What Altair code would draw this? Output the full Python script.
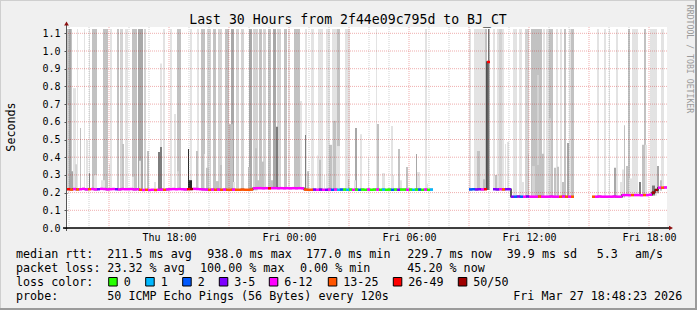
import altair as alt
import pandas as pd

MONO = "DejaVu Sans Mono"

# ---------------- text ----------------
title_text = "Last 30 Hours from 2f44e09c795d to BJ_CT"
y_title = "Seconds"
side_text = "RRDTOOL / TOBI OETIKER"

# ---------------- axes (time = minutes after window start, Thu 12:54) ----------------
window_minutes = 1800
tick_minutes = [306, 666, 1026, 1386, 1746]
tick_labels = ["Thu 18:00", "Fri 00:00", "Fri 06:00", "Fri 12:00", "Fri 18:00"]
y_ticks = [0.0, 0.1, 0.2, 0.3, 0.4, 0.5, 0.6, 0.7, 0.8, 0.9, 1.0, 1.1]
first_hour_minute = 6      # Thu 13:00
first_major_minute = 126   # Thu 15:00

# ---------------- median rtt (s) per 9-minute column, None = no data ----------------
col_minutes = 9
N = None
median_s = [
    0.219, 0.217, 0.220, 0.218, 0.219, 0.221, 0.218, 0.219, 0.220, 0.218, 0.219, 0.221, 0.220, 0.218, 0.219, 0.220, 0.219, 0.218, 0.220, 0.219,
    0.219, 0.220, 0.218, 0.219, 0.216, 0.215, 0.216, 0.215, 0.216, 0.215, 0.216, 0.217, 0.216, 0.218, 0.219, 0.220, 0.219, 0.220, 0.219, 0.218,
    0.219, 0.220, 0.221, 0.220, 0.219, 0.218, 0.217, 0.216, 0.217, 0.216, 0.217, 0.216, 0.217, 0.216, 0.216, 0.217, 0.216, 0.216, 0.217, 0.216,
    0.216, 0.217, 0.224, 0.225, 0.225, 0.224, 0.225, 0.224, 0.225, 0.225, 0.224, 0.225, 0.224, 0.225, 0.224, 0.225, 0.224, 0.225, 0.224, 0.217,
    0.216, 0.216, 0.217, 0.216, 0.217, 0.216, 0.216, 0.217, 0.216, 0.217, 0.216, 0.217, 0.217, 0.216, 0.217, 0.216, 0.217, 0.216, 0.217, 0.216,
    0.217, 0.216, 0.217, 0.217, 0.216, 0.217, 0.216, 0.217, 0.216, 0.217, 0.216, 0.217, 0.217, 0.216, 0.217, 0.216, 0.217, 0.217, 0.216, 0.217,
    0.216, 0.217, N, N, N, N, N, N, N, N, N, N, N, N, 0.218, 0.219, 0.218, 0.219, 0.218, 0.219,
    0.938, N, 0.219, 0.218, 0.219, 0.218, 0.219, 0.219, 0.177, 0.177, 0.178, 0.177, 0.177, 0.178, 0.177, 0.177, 0.177, 0.178, 0.177, 0.177,
    0.177, 0.178, 0.177, 0.177, 0.177, 0.178, 0.177, 0.177, 0.177, N, N, N, N, N, N, 0.177, 0.177, 0.178, 0.177, 0.177,
    0.177, 0.177, 0.178, 0.177, 0.177, 0.186, 0.186, 0.185, 0.186, 0.186, 0.186, 0.185, 0.186, 0.186, 0.188, 0.200, 0.215, 0.228, 0.228, 0.229,
]
# loss class per column: 0="0",1="1",2="2",3="3-5",4="6-12",5="13-25",6="26-49",7="50/50"
loss_code = [
    6, 5, 4, 5, 4, 4, 4, 5, 4, 4, 3, 4, 4, 4, 4, 4, 3, 4, 4, 4,
    4, 4, 4, 4, 5, 4, 5, 4, 4, 5, 4, 4, 5, 4, 4, 4, 4, 4, 4, 4,
    6, 7, 4, 4, 4, 4, 4, 5, 4, 5, 4, 5, 4, 5, 5, 4, 5, 5, 5, 5,
    5, 5, 4, 4, 4, 4, 4, 6, 4, 4, 4, 4, 4, 4, 4, 4, 4, 4, 4, 5,
    5, 5, 3, 4, 3, 4, 3, 4, 2, 4, 1, 2, 0, 1, 0, 4, 0, 2, 0, 0,
    4, 0, 0, 4, 0, 1, 0, 0, 2, 0, 3, 0, 0, 4, 0, 1, 0, 2, 0, 4,
    0, 1, N, N, N, N, N, N, N, N, N, N, N, N, 2, 2, 3, 3, 4, 6,
    6, N, 3, 3, 4, 5, 3, 3, 3, 2, 3, 2, 4, 3, 4, 4, 4, 5, 4, 4,
    4, 4, 4, 4, 5, 4, 5, 4, 5, N, N, N, N, N, N, 5, 4, 4, 4, 4,
    4, 4, 4, 4, 4, 4, 4, 4, 5, 4, 4, 4, 5, 4, 4, 7, 7, 4, 5, 4,
]
loss_labels = ["0", "1", "2", "3-5", "6-12", "13-25", "26-49", "50/50"]
loss_colors = ["#26ff00", "#00b8ff", "#0059ff", "#7e00ff", "#ff00ff", "#ff5500", "#ff0000", "#a00000"]

# ---------------- smoke: bars that run off the top of the scale ----------------
tall_top = 1.124
tall_start = [0, 6, 12, 30, 51, 66, 75, 108, 129, 150, 159, 174, 195, 213, 222, 231, 288, 309, 330, 369,
              390, 402, 420, 438, 453, 474, 492, 507, 522, 546, 558, 576, 588, 603, 618, 630, 651, 663, 681, 714,
              732, 753, 777, 795, 810, 834, 927, 1074, 1206, 1221, 1254, 1264, 1278, 1290, 1296, 1338, 1356, 1374, 1392, 1428,
              1437, 1446, 1467, 1479, 1491, 1506, 1512, 1590, 1611, 1626, 1647, 1683, 1695, 1731, 1749, 1782]
tall_end = [6, 12, 15, 33, 54, 69, 90, 123, 135, 156, 168, 183, 210, 222, 228, 237, 294, 315, 342, 375,
            396, 414, 432, 447, 465, 486, 501, 516, 531, 555, 573, 585, 597, 612, 627, 642, 660, 669, 699, 720,
            741, 768, 789, 810, 819, 849, 930, 1080, 1212, 1254, 1260, 1267, 1284, 1311, 1305, 1350, 1365, 1386, 1425, 1434,
            1446, 1458, 1473, 1485, 1497, 1512, 1521, 1596, 1617, 1629, 1653, 1689, 1713, 1737, 1770, 1791]
tall_dens = [3, 4, 3, 1, 1, 1, 3, 3, 1, 3, 2, 1, 3, 4, 4, 2, 1, 1, 3, 1,
             1, 3, 2, 3, 2, 3, 4, 2, 2, 4, 2, 3, 2, 3, 4, 2, 3, 1, 3, 1,
             1, 1, 1, 1, 3, 1, 1, 1, 1, 1, 3, 6, 1, 1, 2, 1, 1, 2, 3, 1,
             1, 3, 1, 1, 3, 1, 3, 1, 1, 1, 1, 3, 1, 3, 1, 1]

# ---------------- smoke: shorter spikes ----------------
spike_start = [0, 12, 18, 24, 39, 57, 66, 81, 102, 117, 126, 150, 165, 195, 207, 216, 240, 261, 273, 279,
               279, 321, 330, 363, 366, 387, 411, 417, 426, 444, 459, 486, 498, 543, 564, 570, 582, 612, 627, 699,
               714, 720, 750, 756, 771, 786, 798, 810, 834, 843, 861, 864, 879, 903, 930, 945, 972, 975, 993, 999,
               1017, 1047, 1050, 1074, 1230, 1248, 1278, 1284, 1314, 1320, 1365, 1383, 1395, 1410, 1410, 1422, 1425, 1446, 1461, 1470,
               1485, 1500, 1506, 1590, 1611, 1641, 1650, 1659, 1665, 1671, 1677, 1683, 1686, 1701, 1707, 1716, 1725, 1734, 1755, 1770,
               1779, 1785]
spike_end = [6, 18, 27, 30, 42, 63, 69, 90, 114, 123, 129, 153, 171, 201, 210, 222, 246, 267, 279, 285,
             285, 327, 336, 366, 375, 393, 414, 426, 429, 456, 465, 498, 504, 549, 570, 576, 591, 618, 633, 705,
             717, 726, 759, 762, 774, 795, 807, 819, 837, 846, 867, 870, 885, 906, 936, 954, 978, 981, 999, 1005,
             1023, 1050, 1059, 1083, 1239, 1254, 1284, 1290, 1317, 1326, 1371, 1386, 1404, 1416, 1416, 1425, 1431, 1452, 1467, 1476,
             1491, 1506, 1512, 1596, 1614, 1647, 1653, 1665, 1671, 1674, 1683, 1686, 1695, 1707, 1713, 1722, 1731, 1740, 1764, 1776,
             1785, 1791]
spike_top = [0.695, 0.32, 0.79, 0.36, 0.565, 0.50, 0.31, 0.30, 0.27, 0.27, 0.36, 0.57, 0.475, 0.29, 0.35, 0.38, 0.435, 0.26, 0.43, 0.458,
             0.93, 0.644, 0.32, 0.446, 0.27, 0.435, 0.418, 0.34, 0.38, 0.265, 0.356, 0.587, 0.26, 0.345, 0.45, 0.27, 0.375, 0.27, 0.572, 0.717,
             0.525, 0.32, 0.41, 0.385, 0.30, 0.47, 0.605, 0.463, 0.27, 0.275, 0.27, 0.565, 0.53, 0.395, 0.587, 0.31, 0.576, 0.30, 0.446, 0.27,
             0.345, 0.418, 0.316, 0.25, 0.435, 0.276, 0.30, 0.30, 0.475, 0.486, 0.26, 0.42, 0.35, 0.864, 0.356, 0.397, 0.42, 0.62, 0.34, 0.346,
             0.26, 0.48, 0.27, 0.275, 0.27, 0.34, 0.33, 0.26, 0.33, 0.58, 0.35, 0.395, 0.28, 0.50, 0.46, 0.26, 0.47, 0.47, 0.24, 0.35,
             0.27, 0.927]
spike_dens = [2, 4, 1, 2, 3, 1, 5, 1, 1, 3, 1, 3, 3, 1, 3, 1, 3, 1, 5, 5,
              1, 1, 2, 6, 6, 3, 1, 3, 1, 3, 3, 3, 1, 3, 3, 3, 3, 3, 5, 1,
              5, 3, 1, 3, 1, 3, 3, 1, 1, 3, 1, 4, 1, 1, 3, 1, 1, 1, 3, 1,
              3, 4, 1, 1, 3, 3, 1, 3, 1, 1, 1, 3, 2, 2, 3, 3, 3, 2, 3, 3,
              3, 4, 1, 1, 1, 4, 1, 1, 1, 3, 3, 3, 1, 1, 1, 5, 3, 1, 5, 4,
              3, 1]
smoke_grays = ["#e3e3e3", "#d3d3d3", "#c2c2c2", "#a8a8a8", "#7d7d7d", "#2a2a2a"]

# ---------------- legend text ----------------
rtt_label = "median rtt:"
rtt_stats = ["211.5 ms avg", "938.0 ms max", "177.0 ms min", "229.7 ms now", "39.9 ms sd", "5.3", "am/s"]
loss_label = "packet loss:"
loss_stats = ["23.32 % avg", "100.00 % max", "0.00 % min", "45.20 % now"]
color_label = "loss color:"
probe_label = "probe:"
probe_text = "50 ICMP Echo Pings (56 Bytes) every 120s"
date_text = "Fri Mar 27 18:48:23 2026"

# ================= build =================
W, H = 600, 201
LEFT, TOP = 67, 27
YMAX = 1.1356

x_scale = alt.Scale(domain=[0, window_minutes], nice=False, zero=False)
y_scale = alt.Scale(domain=[0, YMAX], nice=False, zero=False)

label_expr = " : ".join(f"datum.value == {v} ? '{l}'" for v, l in zip(tick_minutes, tick_labels)) + " : ''"
X_AXIS = alt.Axis(values=tick_minutes, labelExpr=label_expr, title=None, domain=False, grid=False,
                  ticks=False, labelFont=MONO, labelFontSize=10, labelColor="#000",
                  labelPadding=4, labelOverlap=False, labelFlush=False)
Y_AXIS = alt.Axis(values=y_ticks, format=".1f", title=None, domain=False, grid=False,
                  tickSize=3, tickColor="#555", labelFont=MONO, labelFontSize=10,
                  labelColor="#000", labelPadding=4)


def X(f):
    return alt.X(f, scale=x_scale, axis=X_AXIS)


def Y(f):
    return alt.Y(f, scale=y_scale, axis=Y_AXIS)


def base_at(t):
    k = int(t // col_minutes)
    vals = [median_s[j] for j in (k - 1, k, k + 1)
            if 0 <= j < len(median_s) and median_s[j] is not None]
    return (min(vals) if vals else 0.2) - 0.004


rows = []
for s, e, d in zip(tall_start, tall_end, tall_dens):
    rows.append(dict(t0=s, t1=e, lo=base_at(s), hi=tall_top, c=smoke_grays[d - 1]))
for s, e, top, d in zip(spike_start, spike_end, spike_top, spike_dens):
    rows.append(dict(t0=s, t1=e, lo=base_at(s), hi=top, c=smoke_grays[d - 1]))
smoke_df = pd.DataFrame(rows).sort_values("hi", ascending=False, kind="stable").reset_index(drop=True)

med_rows, step_rows = [], []
seg = 0
prev_none = True
for k, (m, c) in enumerate(zip(median_s, loss_code)):
    if m is None:
        if not prev_none:
            step_rows.append(dict(t=k * col_minutes, m=median_s[k - 1], seg=seg))
        prev_none = True
        continue
    if prev_none:
        seg += 1
    prev_none = False
    med_rows.append(dict(t0=k * col_minutes, t1=(k + 1) * col_minutes, m=m, c=loss_colors[c]))
    step_rows.append(dict(t=k * col_minutes, m=m, seg=seg))
if not prev_none:
    step_rows.append(dict(t=len(median_s) * col_minutes, m=median_s[-1], seg=seg))
med_df = pd.DataFrame(med_rows)
step_df = pd.DataFrame(step_rows)

smoke = alt.Chart(smoke_df).mark_rect(clip=True).encode(
    x=X("t0:Q"), x2="t1:Q", y=Y("lo:Q"), y2="hi:Q",
    color=alt.Color("c:N", scale=None),
)

minor_min = [first_hour_minute + 60 * i for i in range(30)
             if (first_hour_minute + 60 * i - first_major_minute) % 180 != 0]
major_min = [first_major_minute + 180 * i for i in range(10)]

grid_minor = alt.Chart(pd.DataFrame({"t": minor_min})).mark_rule(
    color="#7a7a7a", strokeOpacity=0.35, strokeDash=[1, 1], strokeWidth=1
).encode(x=X("t:Q"))
grid_major = alt.Chart(pd.DataFrame({"t": major_min})).mark_rule(
    color="#cc0000", strokeOpacity=0.32, strokeDash=[1, 1], strokeWidth=1
).encode(x=X("t:Q"))
grid_h = alt.Chart(pd.DataFrame({"v": y_ticks[1:]})).mark_rule(
    color="#cc0000", strokeOpacity=0.32, strokeDash=[1, 1], strokeWidth=1
).encode(y=Y("v:Q"))

steps = alt.Chart(step_df).mark_line(interpolate="step-after", color="#2a2a2a", strokeWidth=1.5).encode(
    x=X("t:Q"), y=Y("m:Q"), detail="seg:N",
)
med = alt.Chart(med_df).mark_rule(strokeWidth=2.5, strokeCap="butt").encode(
    x=X("t0:Q"), x2="t1:Q", y=Y("m:Q"),
    color=alt.Color("c:N", scale=None),
)

dummy = pd.DataFrame({"d": [0]})


def txt(s, ax, ay, size=11.7, align="left", baseline="alphabetic", angle=0, color="#000"):
    kw = dict(font=MONO, fontSize=size, align=align, baseline=baseline, color=color)
    if angle:
        kw["angle"] = angle
    return alt.Chart(dummy).mark_text(**kw).encode(
        x=alt.value(ax - LEFT), y=alt.value(ay - TOP), text=alt.value(s))


def rule(x1, y1, x2, y2, color, w):
    return alt.Chart(dummy).mark_rule(color=color, strokeWidth=w, strokeCap="butt").encode(
        x=alt.value(x1 - LEFT), x2=alt.value(x2 - LEFT), y=alt.value(y1 - TOP), y2=alt.value(y2 - TOP))


layers = [smoke, grid_minor, grid_major, grid_h, steps, med]

# axis lines and arrows
layers.append(rule(66.5, 25, 66.5, 231, "#555555", 1))
layers.append(rule(63, 228, 670, 228, "#000000", 1.5))
layers.append(alt.Chart(dummy).mark_point(shape="triangle-up", filled=True, size=22, color="#8b1010", opacity=1)
              .encode(x=alt.value(66.5 - LEFT), y=alt.value(23.5 - TOP)))
layers.append(alt.Chart(dummy).mark_point(shape="triangle-right", filled=True, size=22, color="#8b1010", opacity=1)
              .encode(x=alt.value(671 - LEFT), y=alt.value(228 - TOP)))

# titles
layers.append(txt(title_text, 348, 24, size=13.2, align="center"))
layers.append(txt(y_title, 10.5, 127, size=11.7, align="center", baseline="middle", angle=270))
layers.append(txt(side_text, 689, 59, size=8.2, align="center", baseline="middle", angle=90, color="#9a9a9a"))

# legend
LY = [258, 272, 286, 299.5]
layers.append(txt(rtt_label, 16, LY[0]))
for s, ax in zip(rtt_stats, [107.3, 207.3, 306, 407.3, 506.7, 596.7, 635]):
    layers.append(txt(s, ax, LY[0]))
layers.append(txt(loss_label, 16, LY[1]))
for s, ax in zip(loss_stats, [107.3, 200, 300, 407.3]):
    layers.append(txt(s, ax, LY[1]))
layers.append(txt(color_label, 16, LY[2]))
sq_x = [108.7, 145.7, 182.7, 219.3, 269.3, 328.3, 393.3, 458.3]
for lab, col, ax in zip(loss_labels, loss_colors, sq_x):
    layers.append(alt.Chart(dummy).mark_rect(color=col, stroke="#000", strokeWidth=1).encode(
        x=alt.value(ax - LEFT), x2=alt.value(ax + 8.5 - LEFT),
        y=alt.value(277.5 - TOP), y2=alt.value(286 - TOP)))
    layers.append(txt(lab, ax + 15, LY[2]))
layers.append(txt(probe_label, 16, LY[3]))
layers.append(txt(probe_text, 107.3, LY[3]))
layers.append(txt(date_text, 513.3, LY[3]))

# outer frame
layers.append(rule(0, 0.5, 697, 0.5, "#cfcfcf", 1))
layers.append(rule(0.5, 0, 0.5, 310, "#cfcfcf", 1))
layers.append(rule(0, 309, 697, 309, "#9b9b9b", 2))
layers.append(rule(696, 0, 696, 310, "#9b9b9b", 2))

chart = alt.layer(*layers).properties(
    width=W, height=H,
    padding={"left": LEFT, "top": TOP, "right": 697 - LEFT - W, "bottom": 310 - TOP - H},
    autosize=alt.AutoSizeParams(type="none"),
    background="#f0f0f0",
).configure_view(fill="white", stroke=None)

chart.save("out.html", embed_options={"renderer": "svg", "actions": False})
